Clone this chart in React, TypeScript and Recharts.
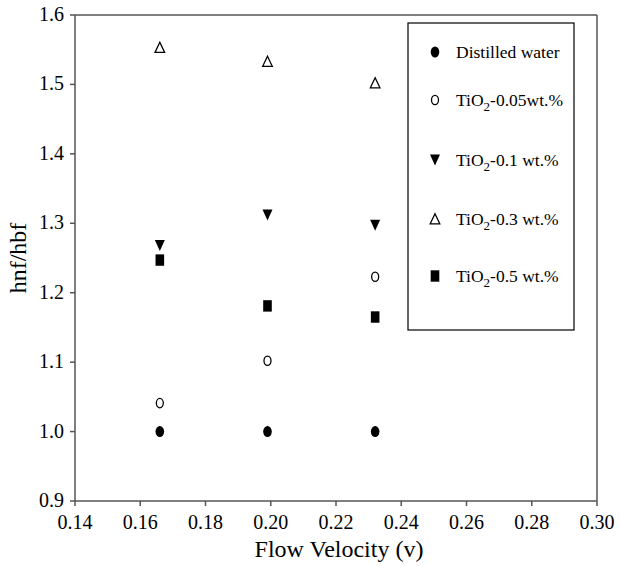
import { ScatterChart, Scatter, XAxis, YAxis, ReferenceLine, Label } from 'recharts'

// velocities (x) shared by every series
const velocities = [0.166, 0.199, 0.232]

// hnf/hbf values
const distilledWater = [1.0, 1.0, 1.0]
const tio2_005 = [1.041, 1.102, 1.223]
const tio2_01 = [1.268, 1.312, 1.297]
const tio2_03 = [1.553, 1.533, 1.502]
const tio2_05 = [1.247, 1.181, 1.165]

const xTicks = [0.14, 0.16, 0.18, 0.2, 0.22, 0.24, 0.26, 0.28, 0.3]
const yTicks = [0.9, 1.0, 1.1, 1.2, 1.3, 1.4, 1.5, 1.6]

const FONT = "'Liberation Serif', 'Times New Roman', serif"
const AXIS_COLOR = '#555'
const serif = { fontFamily: FONT }

const toPoints = (values: number[]) => values.map((y, i) => ({ x: velocities[i], y }))

// marcadores
const FilledCircle = ({ cx, cy }: any) => <ellipse cx={cx} cy={cy} rx={4.3} ry={5.5} fill="#000" />
const OpenCircle = ({ cx, cy }: any) => (
  <ellipse cx={cx} cy={cy} rx={3.5} ry={4.7} fill="#fff" stroke="#000" strokeWidth={1.3} />
)
const DownTriangle = ({ cx, cy }: any) => (
  <path d={`M${cx - 5},${cy - 5.5} L${cx + 5},${cy - 5.5} L${cx},${cy + 5.5} Z`} fill="#000" />
)
const UpTriangle = ({ cx, cy }: any) => (
  <path d={`M${cx},${cy - 5.3} L${cx + 4.8},${cy + 4.8} L${cx - 4.8},${cy + 4.8} Z`} fill="#fff" stroke="#000" strokeWidth={1.3} />
)
const FilledSquare = ({ cx, cy }: any) => <rect x={cx - 4.3} y={cy - 5.7} width={8.6} height={11.4} fill="#000" />

const series = [
  { name: 'Distilled water', data: distilledWater, shape: FilledCircle, tio2: false, rest: '' },
  { name: 'TiO2-0.05wt.%', data: tio2_005, shape: OpenCircle, tio2: true, rest: '-0.05wt.%' },
  { name: 'TiO2-0.1 wt.%', data: tio2_01, shape: DownTriangle, tio2: true, rest: '-0.1 wt.%' },
  { name: 'TiO2-0.3 wt.%', data: tio2_03, shape: UpTriangle, tio2: true, rest: '-0.3 wt.%' },
  { name: 'TiO2-0.5 wt.%', data: tio2_05, shape: FilledSquare, tio2: true, rest: '-0.5 wt.%' },
]

const legendRows = [30, 78, 138, 197, 254]

const LegendBox = () => (
  <svg width={168} height={310} style={{ position: 'absolute', left: 407, top: 22 }}>
    <rect x={1} y={1} width={166} height={307} fill="#fff" stroke="#000" strokeWidth={1.2} />
    {series.map((s, i) => {
      const Shape = s.shape
      const y = legendRows[i]
      return (
        <g key={s.name}>
          <Shape cx={28} cy={y} />
          <text x={49} y={y + 6} style={serif} fontSize={17.5} fill="#000">
            {s.tio2 ? (
              <>
                TiO
                <tspan fontSize={13} dy={5}>2</tspan>
                <tspan dy={-5}>{s.rest}</tspan>
              </>
            ) : (
              s.name
            )}
          </text>
        </g>
      )
    })}
  </svg>
)

const XTick = ({ x, y, payload }: any) => (
  <text x={x} y={y + 21} textAnchor="middle" style={serif} fontSize={20} fill="#000">
    {payload.value.toFixed(2)}
  </text>
)

const YTick = ({ x, y, payload }: any) => (
  <text x={x - 4} y={y + 6} textAnchor="end" style={serif} fontSize={20} fill="#000">
    {payload.value.toFixed(1)}
  </text>
)

const XTitle = ({ viewBox }: any) => (
  <text x={viewBox.x + viewBox.width / 2 + 3} y={557} textAnchor="middle" style={serif} fontSize={24} fill="#000">
    Flow Velocity (v)
  </text>
)

const YTitle = ({ viewBox }: any) => {
  const cy = viewBox.y + viewBox.height / 2
  return (
    <text x={26} y={cy} transform={`rotate(-90, 26, ${cy})`} textAnchor="middle" style={serif} fontSize={24} fill="#000">
      hnf/hbf
    </text>
  )
}

export default function App() {
  return (
    <div style={{ position: 'absolute', left: 0, top: 0, width: 620, height: 566, background: '#fff', fontFamily: FONT }}>
      <ScatterChart width={620} height={566} margin={{ top: 15, right: 23, left: 0, bottom: 0 }}>
        <XAxis
          type="number"
          dataKey="x"
          domain={[0.14, 0.3]}
          ticks={xTicks}
          height={65}
          tickSize={5}
          tickMargin={2}
          stroke={AXIS_COLOR}
          strokeWidth={1.5}
          tick={XTick}
          allowDataOverflow
        >
          <Label content={XTitle} />
        </XAxis>
        <YAxis
          type="number"
          dataKey="y"
          domain={[0.9, 1.6]}
          ticks={yTicks}
          width={75}
          tickSize={5}
          tickMargin={2}
          stroke={AXIS_COLOR}
          strokeWidth={1.5}
          tick={YTick}
          allowDataOverflow
        >
          <Label content={YTitle} />
        </YAxis>
        <ReferenceLine y={1.6} stroke={AXIS_COLOR} strokeWidth={1.5} />
        <ReferenceLine x={0.3} stroke={AXIS_COLOR} strokeWidth={1.5} />
        {series.map((s) => (
          <Scatter
            key={s.name}
            name={s.name}
            data={toPoints(s.data)}
            shape={s.shape}
            isAnimationActive={false}
          />
        ))}
      </ScatterChart>
      <LegendBox />
    </div>
  )
}
